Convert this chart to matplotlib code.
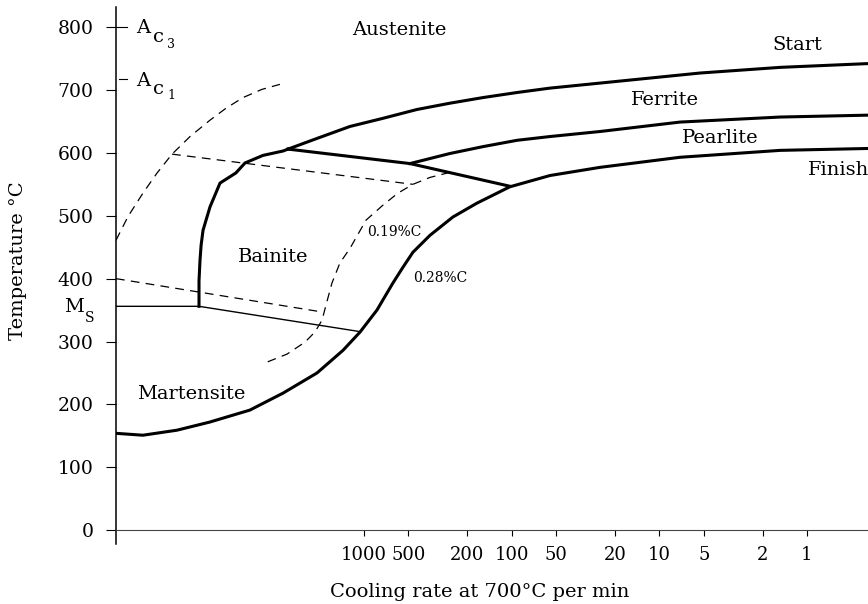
import matplotlib
matplotlib.use("Agg")
import matplotlib.pyplot as plt

plt.rcParams["font.family"] = "DejaVu Serif"

# cooling rate at 700C (per min) and temperature (C)
rate_ticks = [1000, 500, 200, 100, 50, 20, 10, 5, 2, 1]
temp_ticks = [0, 100, 200, 300, 400, 500, 600, 700, 800]

ac1_rate = [47800, 39600, 31400, 25200, 19950, 15070, 11040, 8600, 6590, 4910, 3710]
ac1_temp = [461, 499, 536, 568, 598, 626, 652, 671, 688, 701, 709]

upper_dash_rate = [19950, 466]
upper_dash_temp = [598, 550]

lower_dash_rate = [47800, 1923]
lower_dash_temp = [400, 347]

c019_rate = [262, 357, 466, 589, 743, 969, 1245, 1455, 1648, 1808, 1923, 2150, 2510, 3320, 4680]
c019_temp = [569, 561, 550, 536, 517, 493, 448, 425, 393, 358, 334, 315, 299, 280, 266]

ms_rate = [47800, 13100, 1081]
ms_temp = [356, 356, 316]

bainite_rate = [13100, 13100, 12900, 12680, 12300, 11040, 9440, 7380, 6390, 4830, 3530, 3270]
bainite_temp = [356, 396, 429, 453, 477, 514, 552, 568, 584, 596, 603, 606]

start_rate = [3270, 2080, 1245, 743, 438, 262, 156, 92, 55, 25.2, 5.3, 1.52, 0.386]
start_temp = [606, 623, 642, 655, 669, 679, 688, 696, 703, 711, 727, 736, 742]

bp_rate = [3270, 488, 103]
bp_temp = [606, 583, 547]

pearlite_rate = [488, 262, 156, 92, 55, 25.2, 7.24, 1.52, 0.386]
pearlite_temp = [583, 599, 610, 620, 626, 634, 649, 657, 660]

finish_rate = [47800, 31400, 18460, 11040, 5920, 3530, 2080, 1387, 1064, 817, 637, 545,
               466, 357, 250, 172, 103, 55, 25.2, 7.24, 1.52, 0.386]
finish_temp = [154, 151, 159, 172, 191, 218, 250, 286, 315, 350, 393, 418,
               442, 469, 498, 520, 546, 564, 577, 593, 604, 607]

fig = plt.figure(figsize=(8.68, 6.04), dpi=100)
ax = fig.add_axes([116 / 868, 60 / 604, 752 / 868, 537 / 604])

dash = (0, (7, 5))
ax.plot(ac1_rate, ac1_temp, color="black", lw=0.9, ls=dash)
ax.plot(upper_dash_rate, upper_dash_temp, color="black", lw=0.9, ls=dash)
ax.plot(lower_dash_rate, lower_dash_temp, color="black", lw=0.9, ls=dash)
ax.plot(c019_rate, c019_temp, color="black", lw=0.9, ls=dash)

ax.plot(ms_rate, ms_temp, color="black", lw=1.0)
ax.plot(bainite_rate, bainite_temp, color="black", lw=2.2, solid_joinstyle="round")
ax.plot(start_rate, start_temp, color="black", lw=2.2, solid_joinstyle="round")
ax.plot(bp_rate, bp_temp, color="black", lw=2.2, solid_joinstyle="round")
ax.plot(pearlite_rate, pearlite_temp, color="black", lw=2.2, solid_joinstyle="round")
ax.plot(finish_rate, finish_temp, color="black", lw=2.2, solid_joinstyle="round")

ax.set_xscale("log")
ax.set_xlim(47800, 0.386)
ax.set_ylim(-22, 832)
ax.set_xticks(rate_ticks)
ax.set_xticklabels([str(r) for r in rate_ticks])
ax.minorticks_off()
ax.set_yticks(temp_ticks)

for s in ["top", "right"]:
    ax.spines[s].set_visible(False)
ax.spines["bottom"].set_position(("data", 0))
ax.spines["bottom"].set_linewidth(0.8)
ax.spines["bottom"].set_color("#444444")
ax.spines["left"].set_linewidth(1.1)

ax.tick_params(axis="x", direction="out", length=4.5, width=0.8, pad=7, labelsize=13)
ax.tick_params(axis="y", direction="out", length=7, width=0.8, pad=9, labelsize=13.5)

ax.set_xlabel("Cooling rate at 700°C per min", fontsize=14)
ax.set_ylabel("Temperature °C", fontsize=14)
ax.xaxis.set_label_coords(0.484, -0.073)
ax.yaxis.set_label_coords(-0.119, 0.527)

# Ac3 / Ac1 marks and Ms label
yt = ax.get_yaxis_transform()
ax.plot([0, 0.0146], [800, 800], color="black", lw=0.8, transform=yt, clip_on=False)
ax.plot([0.004, 0.0146], [717, 717], color="black", lw=0.8, transform=yt, clip_on=False)
ax.text(0.027, 798, "A", fontsize=14, transform=yt, ha="left", va="center")
ax.text(0.049, 784, "c", fontsize=14, transform=yt, ha="left", va="center")
ax.text(0.068, 773, "3", fontsize=9, transform=yt, ha="left", va="center")
ax.text(0.027, 715, "A", fontsize=14, transform=yt, ha="left", va="center")
ax.text(0.049, 701, "c", fontsize=14, transform=yt, ha="left", va="center")
ax.text(0.068, 692, "1", fontsize=9, transform=yt, ha="left", va="center")
ax.text(-0.043, 355, "M", fontsize=14, transform=yt, ha="right", va="center")
ax.text(-0.042, 338, "S", fontsize=10, transform=yt, ha="left", va="center")

ax.text(580, 795, "Austenite", fontsize=14, ha="center", va="center")
ax.text(1.17, 771, "Start", fontsize=14, ha="center", va="center")
ax.text(9.16, 684, "Ferrite", fontsize=14, ha="center", va="center")
ax.text(3.88, 623, "Pearlite", fontsize=14, ha="center", va="center")
ax.text(0.985, 572, "Finish", fontsize=14, ha="left", va="center", clip_on=False)
ax.text(4130, 434, "Bainite", fontsize=14, ha="center", va="center")
ax.text(14840, 216, "Martensite", fontsize=14, ha="center", va="center")
ax.text(626, 474, "0.19%C", fontsize=10, ha="center", va="center")
ax.text(305, 401, "0.28%C", fontsize=10, ha="center", va="center")

fig.savefig("out.png", dpi=100)
